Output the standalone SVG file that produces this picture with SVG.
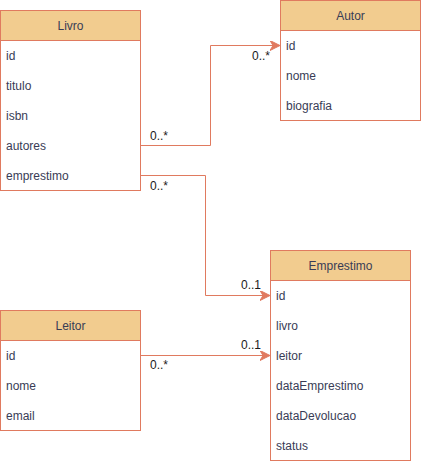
<svg xmlns="http://www.w3.org/2000/svg" width="422" height="462" viewBox="0 0 422 462">
<style>
.box{fill:#ffffff;stroke:#E07A5F;stroke-width:1}
.hdr{fill:#F2CC8F;stroke:#E07A5F;stroke-width:1}
.t{font-family:"Liberation Sans",Arial,sans-serif;font-size:12px;fill:#393C56}
.c{text-anchor:middle}
.edge{fill:none;stroke:#E07A5F;stroke-width:1}
.lbl{font-family:"Liberation Sans",Arial,sans-serif;font-size:12px;fill:#1a1a1a}
</style>
<defs>
<marker id="arr" viewBox="0 0 10 10" refX="9" refY="5" markerWidth="10" markerHeight="10" markerUnits="userSpaceOnUse" orient="auto">
<path d="M0,0 L10,5 L0,10 L3,5 Z" fill="#E07A5F" stroke="#E07A5F" stroke-width="1"/>
</marker>
</defs>
<g id="connectors">
<path class="edge" d="M140.5,145.5 H210.5 V45.5 H279" marker-end="url(#arr)"/>
<path class="edge" d="M140.5,175.5 H205.5 V295.5 H269" marker-end="url(#arr)"/>
<path class="edge" d="M140.5,355.5 H269" marker-end="url(#arr)"/>
<text class="lbl" x="150" y="140">0..*</text>
<text class="lbl" x="252" y="60">0..*</text>
<text class="lbl" x="150" y="190">0..*</text>
<text class="lbl" x="241" y="289">0..1</text>
<text class="lbl" x="150" y="369">0..*</text>
<text class="lbl" x="241" y="349">0..1</text>
</g>
<g id="livro">
<rect class="box" x="0.5" y="10.5" width="140" height="180"/>
<rect class="hdr" x="0.5" y="10.5" width="140" height="30"/>
<text class="t c" x="70.5" y="29.5">Livro</text>
<text class="t" x="6" y="59.5">id</text>
<text class="t" x="6" y="89.5">titulo</text>
<text class="t" x="6" y="119.5">isbn</text>
<text class="t" x="6" y="149.5">autores</text>
<text class="t" x="6" y="179.5">emprestimo</text>
</g>
<g id="autor">
<rect class="box" x="280.5" y="0.5" width="140" height="120"/>
<rect class="hdr" x="280.5" y="0.5" width="140" height="30"/>
<text class="t c" x="350.5" y="19.5">Autor</text>
<text class="t" x="286" y="49.5">id</text>
<text class="t" x="286" y="79.5">nome</text>
<text class="t" x="286" y="109.5">biografia</text>
</g>
<g id="emprestimo">
<rect class="box" x="270.5" y="250.5" width="140" height="210"/>
<rect class="hdr" x="270.5" y="250.5" width="140" height="30"/>
<text class="t c" x="340.5" y="269.5">Emprestimo</text>
<text class="t" x="276" y="299.5">id</text>
<text class="t" x="276" y="329.5">livro</text>
<text class="t" x="276" y="359.5">leitor</text>
<text class="t" x="276" y="389.5">dataEmprestimo</text>
<text class="t" x="276" y="419.5">dataDevolucao</text>
<text class="t" x="276" y="449.5">status</text>
</g>
<g id="leitor">
<rect class="box" x="0.5" y="310.5" width="140" height="120"/>
<rect class="hdr" x="0.5" y="310.5" width="140" height="30"/>
<text class="t c" x="70.5" y="329.5">Leitor</text>
<text class="t" x="6" y="359.5">id</text>
<text class="t" x="6" y="389.5">nome</text>
<text class="t" x="6" y="419.5">email</text>
</g>
</svg>
